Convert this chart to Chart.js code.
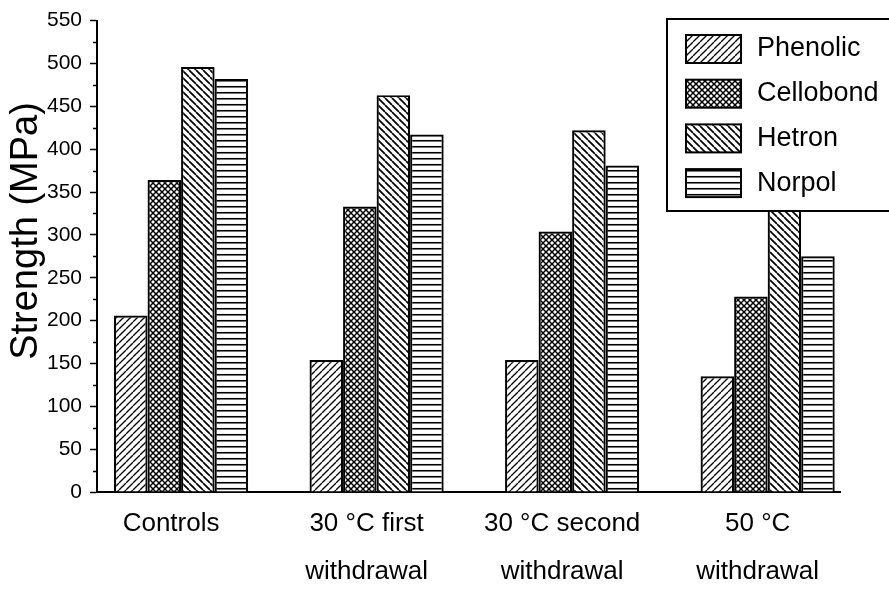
<!DOCTYPE html>
<html>
<head>
<meta charset="utf-8">
<script src="https://cdn.jsdelivr.net/npm/chart.js@4.4.1/dist/chart.umd.min.js"></script>
<style>
    html, body { margin: 0; padding: 0; background: #fff; }
    #wrap { width: 889px; height: 599px; }
</style>
</head>
<body>
<div id="wrap"><canvas id="myChart" width="889" height="599"></canvas></div>
<script>
// values
const categories = [['Controls'], ['30 °C first', 'withdrawal'], ['30 °C second', 'withdrawal'], ['50 °C', 'withdrawal']];
const groupPos = [1, 2, 3, 4];
const seriesNames = ['Phenolic', 'Cellobond', 'Hetron', 'Norpol'];
const phenolic = [206, 154, 154, 135];
const cellobond = [364, 333, 304, 228];
const hetron = [496, 463, 422, 360];   // last one sits behind the legend
const norpol = [482, 417, 381, 275];
const yTitle = 'Strength (MPa)';

const FONT = '"Liberation Sans", Arial, sans-serif';

// hatch fills
const makePattern = (size, draw) => {
    const c = document.createElement('canvas');
    c.width = size.w;
    c.height = size.h;
    const g = c.getContext('2d');
    g.fillStyle = '#fff';
    g.fillRect(0, 0, c.width, c.height);
    g.strokeStyle = '#000';
    draw(g, size.w, size.h);
    return document.getElementById('myChart').getContext('2d').createPattern(c, 'repeat');
};

const forward = makePattern({ w: 7, h: 7 }, (g, s) => {
    g.lineWidth = 1.3;
    for (let k = -1; k <= 1; k++) {
        g.beginPath(); g.moveTo(k * s, s); g.lineTo(k * s + s, 0); g.stroke();
    }
});
const cross = makePattern({ w: 6, h: 6 }, (g, s) => {
    g.lineWidth = 1.5;
    for (let k = -1; k <= 1; k++) {
        g.beginPath(); g.moveTo(k * s, s); g.lineTo(k * s + s, 0); g.stroke();
        g.beginPath(); g.moveTo(k * s, 0); g.lineTo(k * s + s, s); g.stroke();
    }
});
const back = makePattern({ w: 7, h: 7 }, (g, s) => {
    g.lineWidth = 1.7;
    for (let k = -1; k <= 1; k++) {
        g.beginPath(); g.moveTo(k * s, 0); g.lineTo(k * s + s, s); g.stroke();
    }
});
const horiz = makePattern({ w: 4, h: 6 }, (g, w) => {
    g.lineWidth = 1.6;
    g.beginPath(); g.moveTo(0, 2.75); g.lineTo(w, 2.75); g.stroke();
});

const fills = [forward, cross, back, horiz];
const seriesValues = [phenolic, cellobond, hetron, norpol];

const datasets = seriesNames.map((name, i) => ({
    label: name,
    data: groupPos.map((x, j) => ({ x: x, y: seriesValues[i][j] })),
    backgroundColor: fills[i],
    borderColor: '#000',
    borderWidth: 2.2,
    categoryPercentage: 0.686,
    barPercentage: 1
}));

// short ticks half way between the labelled ones, title and boxed legend
const extras = {
    id: 'extras',
    afterDraw(chart) {
        const ctx = chart.ctx;
        const y = chart.scales.y;
        const area = chart.chartArea;
        ctx.save();
        ctx.strokeStyle = '#000';
        ctx.lineWidth = 1.5;
        for (let i = 0; i < y.ticks.length - 1; i++) {
            const mid = (y.ticks[i].value + y.ticks[i + 1].value) / 2;
            const py = Math.round(y.getPixelForValue(mid)) + 0.5;
            ctx.beginPath(); ctx.moveTo(area.left - 4, py); ctx.lineTo(area.left, py); ctx.stroke();
        }

        ctx.save();
        ctx.translate(27, 231);
        ctx.rotate(-Math.PI / 2);
        ctx.fillStyle = '#000';
        ctx.font = '38px ' + FONT;
        ctx.textAlign = 'center';
        ctx.textBaseline = 'middle';
        ctx.fillText(yTitle, 0, 0);
        ctx.restore();

        ctx.fillStyle = '#fff';
        ctx.fillRect(667, 19, 240, 192);
        ctx.lineWidth = 2;
        ctx.strokeRect(667, 19, 240, 192);
        chart.data.datasets.forEach((ds, i) => {
            const top = 35 + i * 44.7;
            ctx.fillStyle = ds.backgroundColor;
            ctx.fillRect(686, top, 55, 28);
            ctx.lineWidth = 2;
            ctx.strokeRect(686, top, 55, 28);
            ctx.fillStyle = '#000';
            ctx.font = '27px ' + FONT;
            ctx.textAlign = 'left';
            ctx.textBaseline = 'middle';
            ctx.fillText(ds.label, 757, top + 14);
        });
        ctx.restore();
    }
};

new Chart(document.getElementById('myChart'), {
    type: 'bar',
    data: { datasets: datasets },
    plugins: [extras],
    options: {
        responsive: false,
        animation: false,
        layout: { padding: { left: 0, top: 19, right: 49, bottom: 0 } },
        plugins: { legend: { display: false }, tooltip: { enabled: false } },
        scales: {
            x: {
                type: 'linear',
                min: 0.57,
                max: 4.37,
                offset: false,
                afterBuildTicks: (scale) => { scale.ticks = groupPos.map(v => ({ value: v })); },
                afterFit: (scale) => { scale.height = 107; },
                grid: { display: false, drawTicks: false, offset: false },
                border: { display: true, color: '#000', width: 2 },
                ticks: {
                    color: '#000',
                    font: { family: FONT, size: 26, lineHeight: 1.85 },
                    padding: 8,
                    labelOffset: -10,
                    maxRotation: 0,
                    autoSkip: false,
                    callback: (v, i) => categories[i]
                }
            },
            y: {
                min: 0,
                max: 550,
                afterFit: (scale) => { scale.width = 97; },
                grid: { display: true, drawOnChartArea: false, drawTicks: true, tickLength: 7, tickColor: '#000', tickWidth: 1.5 },
                border: { display: true, color: '#000', width: 2 },
                ticks: {
                    stepSize: 50,
                    color: '#000',
                    font: { family: FONT, size: 21 },
                    padding: 8
                }
            }
        }
    }
});
</script>
</body>
</html>
